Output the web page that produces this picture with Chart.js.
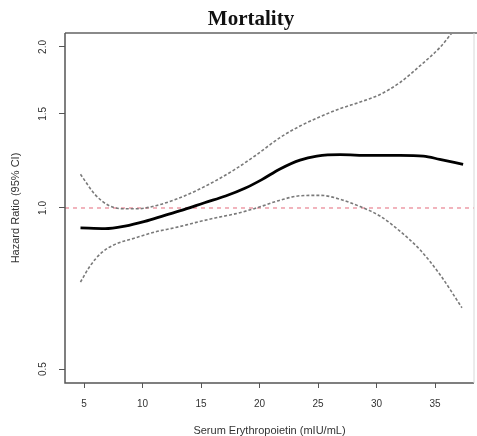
<!DOCTYPE html>
<html>
<head>
<meta charset="utf-8">
<script src="https://cdn.jsdelivr.net/npm/chart.js@4/dist/chart.umd.min.js"></script>
<style>
  html, body { margin: 0; padding: 0; background: #ffffff; }
  #c { display: block; }
</style>
</head>
<body>
<canvas id="c" width="477" height="436"></canvas>
<script>
// ---- data ----
const chartTitle = "Mortality";
const xTitle = "Serum Erythropoietin (mIU/mL)";
const yTitle = "Hazard Ratio (95% CI)";

const xTicks = [5, 10, 15, 20, 25, 30, 35];
const yTicks = [0.5, 1.0, 1.5, 2.0];
const refValue = 1.0;

const xCenter = [4.7, 6.8, 8.5, 10.2, 11.9, 13.6, 15.3, 17.1, 18.8, 20.2, 21.75, 23.46, 24.9, 26.9, 29.4, 32.0, 34.0, 35.4, 37.4];
const hazard  = [0.918, 0.915, 0.925, 0.944, 0.969, 0.994, 1.023, 1.053, 1.09, 1.13, 1.183, 1.229, 1.25, 1.258, 1.254, 1.254, 1.25, 1.233, 1.207];

const xUpper = [4.7, 5.94, 7.08, 8.22, 9.64, 11.07, 12.8, 14.5, 16.2, 17.9, 19.6, 21.75, 23.46, 25.2, 26.9, 28.6, 30.3, 32.0, 33.7, 35.4, 36.4, 37.4];
const upperCI = [1.156, 1.06, 1.012, 0.997, 0.997, 1.009, 1.037, 1.075, 1.123, 1.181, 1.251, 1.354, 1.423, 1.482, 1.534, 1.578, 1.630, 1.716, 1.843, 1.994, 2.12, 2.27];

const xLower = [4.7, 5.5, 6.5, 7.65, 9.36, 11.07, 12.8, 14.5, 16.2, 17.9, 19.6, 21.75, 23.46, 25.2, 26.9, 28.6, 30.3, 32.0, 33.7, 35.4, 37.3];
const lowerCI = [0.727, 0.778, 0.825, 0.855, 0.879, 0.902, 0.919, 0.939, 0.958, 0.975, 0.998, 1.034, 1.054, 1.056, 1.038, 1.006, 0.966, 0.905, 0.836, 0.752, 0.651];

const toPts = (xs, ys) => xs.map((x, i) => ({ x: x, y: ys[i] }));

// ---- plugins ----
const framePlugin = {
  id: 'frame',
  beforeDatasetsDraw(chart) {
    const { ctx, chartArea: a, scales } = chart;
    const y = scales.y.getPixelForValue(refValue);
    ctx.save();
    ctx.beginPath();
    ctx.rect(a.left, a.top, a.right - a.left, a.bottom - a.top);
    ctx.clip();
    ctx.strokeStyle = 'rgba(225,80,100,0.85)';
    ctx.lineWidth = 1;
    ctx.setLineDash([4, 4]);
    ctx.beginPath();
    ctx.moveTo(a.left, y);
    ctx.lineTo(a.right, y);
    ctx.stroke();
    ctx.restore();
  },
  afterDraw(chart) {
    const { ctx, chartArea: a } = chart;
    ctx.save();
    ctx.setLineDash([]);
    ctx.strokeStyle = '#8a8a8a'; ctx.lineWidth = 2;
    ctx.beginPath(); ctx.moveTo(a.left, a.top); ctx.lineTo(chart.width, a.top); ctx.stroke();
    ctx.strokeStyle = '#555'; ctx.lineWidth = 1.5;
    ctx.beginPath(); ctx.moveTo(a.left, a.top); ctx.lineTo(a.left, a.bottom); ctx.lineTo(a.right, a.bottom); ctx.stroke();
    ctx.strokeStyle = '#d8d8d8'; ctx.lineWidth = 1;
    ctx.beginPath(); ctx.moveTo(a.right, a.top); ctx.lineTo(a.right, a.bottom); ctx.stroke();
    ctx.fillStyle = '#111';
    ctx.font = 'bold 21px "Liberation Serif", serif';
    ctx.textAlign = 'center';
    ctx.textBaseline = 'middle';
    ctx.fillText(chartTitle, 251, 20);
    ctx.restore();
  }
};

const tickFont = { family: '"Liberation Sans", Arial, sans-serif', size: 10 };
const titleFont = { family: '"Liberation Sans", Arial, sans-serif', size: 11 };

new Chart(document.getElementById('c'), {
  type: 'line',
  data: {
    datasets: [
      { data: toPts(xUpper, upperCI), borderColor: '#7a7a7a', borderWidth: 1.6, borderDash: [3, 2],
        pointRadius: 0, cubicInterpolationMode: 'monotone', fill: false },
      { data: toPts(xLower, lowerCI), borderColor: '#7a7a7a', borderWidth: 1.6, borderDash: [3, 2],
        pointRadius: 0, cubicInterpolationMode: 'monotone', fill: false },
      { data: toPts(xCenter, hazard), borderColor: '#000000', borderWidth: 2.8,
        pointRadius: 0, cubicInterpolationMode: 'monotone', fill: false }
    ]
  },
  options: {
    responsive: false,
    animation: false,
    devicePixelRatio: 1,
    layout: { padding: { top: 33, right: 3, left: 0, bottom: 0 } },
    plugins: { legend: { display: false }, tooltip: { enabled: false }, title: { display: false } },
    scales: {
      x: {
        type: 'linear',
        min: 3.376, max: 38.33,
        afterBuildTicks: s => { s.ticks = xTicks.map(v => ({ value: v })); },
        afterFit: s => { s.height = 53; },
        ticks: { font: tickFont, color: '#333', padding: 10, maxRotation: 0, minRotation: 0,
                 callback: v => String(v) },
        grid: { drawOnChartArea: false, drawTicks: true, tickLength: 5, color: '#555', lineWidth: 1 },
        border: { display: false },
        title: { display: true, text: xTitle, font: titleFont, color: '#333', padding: { top: 0, bottom: -2 } }
      },
      y: {
        type: 'logarithmic',
        min: 0.4708, max: 2.124,
        afterBuildTicks: s => { s.ticks = yTicks.map(v => ({ value: v })); },
        afterFit: s => { s.width = 65; },
        ticks: { font: tickFont, color: '#333', padding: 9, minRotation: 90, maxRotation: 90,
                 crossAlign: 'center', callback: v => Number(v).toFixed(1) },
        grid: { drawOnChartArea: false, drawTicks: true, tickLength: 6, color: '#555', lineWidth: 1 },
        border: { display: false },
        title: { display: true, text: yTitle, font: titleFont, color: '#333', padding: { top: 9.5, bottom: 0 } }
      }
    }
  },
  plugins: [framePlugin]
});
</script>
</body>
</html>
